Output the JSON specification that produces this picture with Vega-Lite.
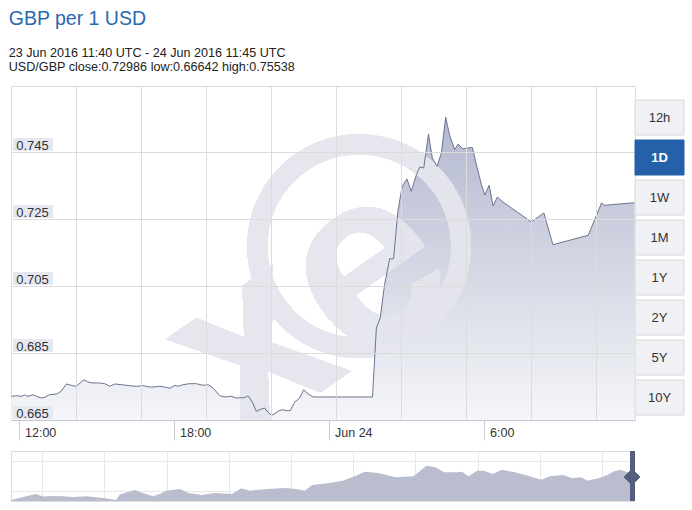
{
  "$schema": "https://vega.github.io/schema/vega-lite/v6.json",
  "padding": {"left": 8, "top": 9, "right": 0, "bottom": 0},
  "background": "white",
  "config": {"font": "Liberation Sans", "view": {"stroke": null}},
  "title": {
    "text": "GBP per 1 USD",
    "subtitle": ["23 Jun 2016 11:40 UTC - 24 Jun 2016 11:45 UTC", "USD/GBP close:0.72986 low:0.66642 high:0.75538"],
    "anchor": "start",
    "font": "Liberation Sans",
    "fontSize": 19.5,
    "fontWeight": "normal",
    "color": "#2a68ad",
    "subtitleFont": "Liberation Sans",
    "subtitleFontSize": 12.6,
    "subtitleColor": "#222222",
    "subtitlePadding": 17,
    "subtitleLineHeight": 14,
    "offset": 11
  },
  "spacing": 7,
  "vconcat": [
    {
      "bounds": "flush",
      "spacing": 0,
      "hconcat": [
        {
          "width": 624,
          "height": 334,
          "view": {"stroke": "#dcdcdc"},
          "data": {"values": [
            {"time": "2016-06-23T11:42:00Z", "rate": 0.67207},
            {"time": "2016-06-23T11:54:00Z", "rate": 0.67225},
            {"time": "2016-06-23T12:05:00Z", "rate": 0.67207},
            {"time": "2016-06-23T12:13:00Z", "rate": 0.67246},
            {"time": "2016-06-23T12:21:00Z", "rate": 0.67207},
            {"time": "2016-06-23T12:33:00Z", "rate": 0.67255},
            {"time": "2016-06-23T12:40:00Z", "rate": 0.67207},
            {"time": "2016-06-23T12:52:00Z", "rate": 0.67157},
            {"time": "2016-06-23T13:00:00Z", "rate": 0.67178},
            {"time": "2016-06-23T13:11:00Z", "rate": 0.67255},
            {"time": "2016-06-23T13:27:00Z", "rate": 0.67276},
            {"time": "2016-06-23T13:38:00Z", "rate": 0.67357},
            {"time": "2016-06-23T13:50:00Z", "rate": 0.67575},
            {"time": "2016-06-23T14:05:00Z", "rate": 0.67524},
            {"time": "2016-06-23T14:13:00Z", "rate": 0.67506},
            {"time": "2016-06-23T14:22:00Z", "rate": 0.67604},
            {"time": "2016-06-23T14:31:00Z", "rate": 0.67703},
            {"time": "2016-06-23T14:40:00Z", "rate": 0.67634},
            {"time": "2016-06-23T14:52:00Z", "rate": 0.67604},
            {"time": "2016-06-23T15:07:00Z", "rate": 0.67604},
            {"time": "2016-06-23T15:19:00Z", "rate": 0.67584},
            {"time": "2016-06-23T15:31:00Z", "rate": 0.67506},
            {"time": "2016-06-23T15:42:00Z", "rate": 0.67575},
            {"time": "2016-06-23T15:58:00Z", "rate": 0.67554},
            {"time": "2016-06-23T16:17:00Z", "rate": 0.67524},
            {"time": "2016-06-23T16:32:00Z", "rate": 0.67506},
            {"time": "2016-06-23T16:48:00Z", "rate": 0.67524},
            {"time": "2016-06-23T17:04:00Z", "rate": 0.67485},
            {"time": "2016-06-23T17:11:00Z", "rate": 0.67485},
            {"time": "2016-06-23T17:27:00Z", "rate": 0.67506},
            {"time": "2016-06-23T17:38:00Z", "rate": 0.67485},
            {"time": "2016-06-23T17:50:00Z", "rate": 0.67446},
            {"time": "2016-06-23T18:02:00Z", "rate": 0.67536},
            {"time": "2016-06-23T18:09:00Z", "rate": 0.67506},
            {"time": "2016-06-23T18:21:00Z", "rate": 0.67554},
            {"time": "2016-06-23T18:36:00Z", "rate": 0.67584},
            {"time": "2016-06-23T18:52:00Z", "rate": 0.67584},
            {"time": "2016-06-23T19:07:00Z", "rate": 0.67536},
            {"time": "2016-06-23T19:19:00Z", "rate": 0.67554},
            {"time": "2016-06-23T19:31:00Z", "rate": 0.67455},
            {"time": "2016-06-23T19:46:00Z", "rate": 0.67225},
            {"time": "2016-06-23T19:58:00Z", "rate": 0.67187},
            {"time": "2016-06-23T20:13:00Z", "rate": 0.67207},
            {"time": "2016-06-23T20:25:00Z", "rate": 0.67157},
            {"time": "2016-06-23T20:36:00Z", "rate": 0.67166},
            {"time": "2016-06-23T20:44:00Z", "rate": 0.67166},
            {"time": "2016-06-23T20:52:00Z", "rate": 0.67225},
            {"time": "2016-06-23T21:03:00Z", "rate": 0.67007},
            {"time": "2016-06-23T21:11:00Z", "rate": 0.66760},
            {"time": "2016-06-23T21:23:00Z", "rate": 0.66828},
            {"time": "2016-06-23T21:31:00Z", "rate": 0.66858},
            {"time": "2016-06-23T21:38:00Z", "rate": 0.66730},
            {"time": "2016-06-23T21:46:00Z", "rate": 0.66642},
            {"time": "2016-06-23T21:54:00Z", "rate": 0.66688},
            {"time": "2016-06-23T22:04:00Z", "rate": 0.66778},
            {"time": "2016-06-23T22:13:00Z", "rate": 0.66807},
            {"time": "2016-06-23T22:21:00Z", "rate": 0.66778},
            {"time": "2016-06-23T22:30:00Z", "rate": 0.66778},
            {"time": "2016-06-23T22:40:00Z", "rate": 0.67028},
            {"time": "2016-06-23T22:52:00Z", "rate": 0.67157},
            {"time": "2016-06-23T23:01:00Z", "rate": 0.67404},
            {"time": "2016-06-23T23:11:00Z", "rate": 0.67285},
            {"time": "2016-06-23T23:23:00Z", "rate": 0.67187},
            {"time": "2016-06-24T01:41:00Z", "rate": 0.67187},
            {"time": "2016-06-24T01:50:00Z", "rate": 0.69246},
            {"time": "2016-06-24T01:59:00Z", "rate": 0.69545},
            {"time": "2016-06-24T02:09:00Z", "rate": 0.70539},
            {"time": "2016-06-24T02:21:00Z", "rate": 0.71315},
            {"time": "2016-06-24T02:30:00Z", "rate": 0.71315},
            {"time": "2016-06-24T02:40:00Z", "rate": 0.72730},
            {"time": "2016-06-24T02:50:00Z", "rate": 0.73476},
            {"time": "2016-06-24T03:01:00Z", "rate": 0.73694},
            {"time": "2016-06-24T03:11:00Z", "rate": 0.73327},
            {"time": "2016-06-24T03:23:00Z", "rate": 0.73822},
            {"time": "2016-06-24T03:31:00Z", "rate": 0.74052},
            {"time": "2016-06-24T03:40:00Z", "rate": 0.74022},
            {"time": "2016-06-24T03:51:00Z", "rate": 0.75037},
            {"time": "2016-06-24T04:00:00Z", "rate": 0.74321},
            {"time": "2016-06-24T04:11:00Z", "rate": 0.74073},
            {"time": "2016-06-24T04:21:00Z", "rate": 0.74470},
            {"time": "2016-06-24T04:31:00Z", "rate": 0.75538},
            {"time": "2016-06-24T04:40:00Z", "rate": 0.75007},
            {"time": "2016-06-24T04:52:00Z", "rate": 0.74569},
            {"time": "2016-06-24T05:00:00Z", "rate": 0.74739},
            {"time": "2016-06-24T05:10:00Z", "rate": 0.74599},
            {"time": "2016-06-24T05:21:00Z", "rate": 0.74619},
            {"time": "2016-06-24T05:33:00Z", "rate": 0.74634},
            {"time": "2016-06-24T05:42:00Z", "rate": 0.74142},
            {"time": "2016-06-24T05:54:00Z", "rate": 0.73524},
            {"time": "2016-06-24T06:02:00Z", "rate": 0.73216},
            {"time": "2016-06-24T06:12:00Z", "rate": 0.73506},
            {"time": "2016-06-24T06:21:00Z", "rate": 0.72888},
            {"time": "2016-06-24T06:31:00Z", "rate": 0.73157},
            {"time": "2016-06-24T06:44:00Z", "rate": 0.73007},
            {"time": "2016-06-24T07:50:00Z", "rate": 0.72410},
            {"time": "2016-06-24T08:19:00Z", "rate": 0.72679},
            {"time": "2016-06-24T08:40:00Z", "rate": 0.71733},
            {"time": "2016-06-24T10:02:00Z", "rate": 0.72013},
            {"time": "2016-06-24T10:33:00Z", "rate": 0.72978},
            {"time": "2016-06-24T10:40:00Z", "rate": 0.72909},
            {"time": "2016-06-24T11:50:00Z", "rate": 0.72986}
          ]},
          "layer": [
            {
              "mark": {"type": "area", "color": {"gradient": "linear", "x1": 0, "y1": 0, "x2": 0, "y2": 1, "stops": [{"offset": 0, "color": "#b3b8cf"}, {"offset": 1, "color": "#f5f6f9"}]}},
              "encoding": {
                "x": {"field": "time", "type": "temporal",
                  "scale": {"type": "utc", "domain": [
                    {"year": 2016, "month": 6, "date": 23, "hours": 11, "minutes": 41, "seconds": 25, "utc": true},
                    {"year": 2016, "month": 6, "date": 24, "hours": 11, "minutes": 50, "seconds": 42, "utc": true}]},
                  "axis": {"title": null, "orient": "bottom", "grid": false,
                    "values": [
                      {"year": 2016, "month": 6, "date": 23, "hours": 12, "utc": true},
                      {"year": 2016, "month": 6, "date": 23, "hours": 18, "utc": true},
                      {"year": 2016, "month": 6, "date": 24, "hours": 0, "utc": true},
                      {"year": 2016, "month": 6, "date": 24, "hours": 6, "utc": true}],
                    "labelExpr": "utcFormat(datum.value, utchours(datum.value) == 0 ? '%b %d' : '%-H:%M')",
                    "domainColor": "#c3c8d4", "tickColor": "#c8ccd6", "tickSize": 20,
                    "labelAlign": "left", "labelBaseline": "alphabetic", "labelPadding": -3.7, "labelOffset": 5.5,
                    "labelFontSize": 12.5, "labelColor": "#333333", "labelFont": "Liberation Sans",
                    "labelFlush": false, "labelOverlap": false, "zindex": 1}},
                "y": {"field": "rate", "type": "quantitative",
                  "scale": {"domain": [0.665, 0.7647], "zero": false, "nice": false},
                  "axis": {"title": null, "grid": true, "gridColor": "#dcdcdc",
                    "values": [0.665, 0.685, 0.705, 0.725, 0.745], "format": ".3f",
                    "domain": false, "ticks": false, "tickSize": 0,
                    "labelAlign": "left", "labelPadding": -4.7, "labelBaseline": "alphabetic", "labelOffset": -2.5,
                    "labelFontSize": 13, "labelColor": "#333333", "labelFont": "Liberation Sans",
                    "labelBound": false, "labelOverlap": false, "zindex": 1}},
                "y2": {"datum": 0.665}
              }
            },
            {
              "mark": {"type": "point", "shape": "circle", "filled": false, "size": 41548, "color": "#e6e6ee", "strokeWidth": 20, "opacity": 0.45, "clip": true},
              "encoding": {
                "x": {"datum": {"year": 2016, "month": 6, "date": 24, "hours": 1, "minutes": 10, "utc": true}, "type": "temporal", "axis": null},
                "y": {"datum": 0.7169, "type": "quantitative"}
              }
            },
            {
              "mark": {"type": "text", "text": "xe", "fontSize": 250, "fontWeight": "bold", "font": "Liberation Sans", "angle": 325, "color": "#e6e6ee", "opacity": 0.45, "align": "center", "baseline": "middle", "dy": 25, "clip": true},
              "encoding": {
                "x": {"datum": {"year": 2016, "month": 6, "date": 23, "hours": 22, "minutes": 41, "utc": true}, "type": "temporal", "axis": null},
                "y": {"datum": 0.7044, "type": "quantitative"}
              }
            },
            {
              "mark": {"type": "line", "color": "#6d7390", "strokeWidth": 1},
              "encoding": {
                "x": {"field": "time", "type": "temporal",
                  "axis": {"title": null, "orient": "top", "grid": true, "gridColor": "#dcdcdc",
                    "labels": false, "ticks": false, "domain": false, "zindex": 1,
                    "values": [
                      {"year": 2016, "month": 6, "date": 23, "hours": 14, "minutes": 13, "utc": true},
                      {"year": 2016, "month": 6, "date": 23, "hours": 16, "minutes": 44, "utc": true},
                      {"year": 2016, "month": 6, "date": 23, "hours": 19, "minutes": 15, "utc": true},
                      {"year": 2016, "month": 6, "date": 23, "hours": 21, "minutes": 46, "utc": true},
                      {"year": 2016, "month": 6, "date": 24, "hours": 0, "minutes": 17, "utc": true},
                      {"year": 2016, "month": 6, "date": 24, "hours": 2, "minutes": 48, "utc": true},
                      {"year": 2016, "month": 6, "date": 24, "hours": 5, "minutes": 19, "utc": true},
                      {"year": 2016, "month": 6, "date": 24, "hours": 7, "minutes": 50, "utc": true},
                      {"year": 2016, "month": 6, "date": 24, "hours": 10, "minutes": 21, "utc": true}]}},
                "y": {"field": "rate", "type": "quantitative"}
              }
            },
            {
              "data": {"values": [{"tick": 0.665}, {"tick": 0.685}, {"tick": 0.705}, {"tick": 0.725}, {"tick": 0.745}]},
              "mark": {"type": "point", "shape": "M2,-14H42V-1H2Z", "size": 4, "filled": true, "fill": "#e6e8f1", "opacity": 1, "strokeWidth": 0},
              "encoding": {
                "x": {"datum": {"year": 2016, "month": 6, "date": 23, "hours": 11, "minutes": 41, "seconds": 25, "utc": true}, "type": "temporal", "axis": null},
                "y": {"field": "tick", "type": "quantitative"}
              }
            }
          ],
          "resolve": {"axis": {"x": "independent"}}
        },
        {
          "width": 49,
          "height": 334,
          "view": {"stroke": null},
          "data": {"values": [
            {"label": "12h", "selected": false},
            {"label": "1D", "selected": true},
            {"label": "1W", "selected": false},
            {"label": "1M", "selected": false},
            {"label": "1Y", "selected": false},
            {"label": "2Y", "selected": false},
            {"label": "5Y", "selected": false},
            {"label": "10Y", "selected": false}
          ]},
          "encoding": {
            "y": {"field": "label", "type": "nominal", "sort": null, "axis": null,
              "scale": {"paddingInner": 0.125, "paddingOuter": 0.2375, "align": 0.737}}
          },
          "layer": [
            {
              "mark": {"type": "bar", "stroke": "#d9d9dc", "strokeWidth": 1},
              "encoding": {
                "x": {"datum": 1, "type": "quantitative", "scale": {"domain": [0, 1]}, "axis": null},
                "fill": {"condition": {"test": "datum.selected", "value": "#2461a8"}, "value": "#f0f1f4"},
                "stroke": {"condition": {"test": "datum.selected", "value": "#2461a8"}, "value": "#d9d9dc"}
              }
            },
            {
              "transform": [{"filter": "!datum.selected"}],
              "mark": {"type": "text", "fontSize": 13, "font": "Liberation Sans", "color": "#333333"},
              "encoding": {"x": {"datum": 0.5, "type": "quantitative"}, "text": {"field": "label"}}
            },
            {
              "transform": [{"filter": "datum.selected"}],
              "mark": {"type": "text", "fontSize": 13, "font": "Liberation Sans", "fontWeight": "bold", "color": "#ffffff"},
              "encoding": {"x": {"datum": 0.5, "type": "quantitative"}, "text": {"field": "label"}}
            }
          ]
        }
      ]
    },
    {
      "width": 622,
      "height": 50,
      "view": {"stroke": "#dcdcdc"},
      "data": {"values": [
        {"year": 1996.00, "rate": 0.505}, {"year": 1996.39, "rate": 0.520}, {"year": 1996.80, "rate": 0.535},
        {"year": 1997.03, "rate": 0.5225}, {"year": 1997.35, "rate": 0.525}, {"year": 1997.67, "rate": 0.5235},
        {"year": 1997.99, "rate": 0.520}, {"year": 1998.44, "rate": 0.5235}, {"year": 1998.96, "rate": 0.515},
        {"year": 1999.28, "rate": 0.5075}, {"year": 1999.38, "rate": 0.505}, {"year": 1999.50, "rate": 0.5325},
        {"year": 1999.76, "rate": 0.545}, {"year": 1999.97, "rate": 0.555}, {"year": 2000.24, "rate": 0.540},
        {"year": 2000.57, "rate": 0.5235}, {"year": 2000.79, "rate": 0.535}, {"year": 2000.98, "rate": 0.5515},
        {"year": 2001.42, "rate": 0.560}, {"year": 2001.72, "rate": 0.540}, {"year": 2002.13, "rate": 0.530},
        {"year": 2002.56, "rate": 0.540}, {"year": 2003.11, "rate": 0.535}, {"year": 2003.40, "rate": 0.5635},
        {"year": 2003.68, "rate": 0.5515}, {"year": 2004.26, "rate": 0.560}, {"year": 2004.81, "rate": 0.565},
        {"year": 2005.16, "rate": 0.560}, {"year": 2005.45, "rate": 0.5515}, {"year": 2005.68, "rate": 0.580},
        {"year": 2006.24, "rate": 0.590}, {"year": 2006.67, "rate": 0.6015}, {"year": 2007.09, "rate": 0.6265},
        {"year": 2007.38, "rate": 0.6465}, {"year": 2007.80, "rate": 0.640}, {"year": 2008.08, "rate": 0.630},
        {"year": 2008.37, "rate": 0.6185}, {"year": 2008.94, "rate": 0.6235}, {"year": 2009.36, "rate": 0.6765},
        {"year": 2009.65, "rate": 0.6685}, {"year": 2009.93, "rate": 0.6435}, {"year": 2010.35, "rate": 0.6435},
        {"year": 2010.50, "rate": 0.6465}, {"year": 2010.71, "rate": 0.6235}, {"year": 2010.99, "rate": 0.6515},
        {"year": 2011.21, "rate": 0.6515}, {"year": 2011.49, "rate": 0.635}, {"year": 2011.78, "rate": 0.6565},
        {"year": 2012.20, "rate": 0.6435}, {"year": 2012.62, "rate": 0.6265}, {"year": 2013.05, "rate": 0.6065},
        {"year": 2013.33, "rate": 0.6235}, {"year": 2013.76, "rate": 0.630}, {"year": 2014.04, "rate": 0.6135},
        {"year": 2014.33, "rate": 0.6185}, {"year": 2014.54, "rate": 0.6015}, {"year": 2014.89, "rate": 0.6135},
        {"year": 2015.18, "rate": 0.630}, {"year": 2015.39, "rate": 0.6485}, {"year": 2015.60, "rate": 0.6565},
        {"year": 2015.81, "rate": 0.6435}, {"year": 2015.95, "rate": 0.635}, {"year": 2016.00, "rate": 0.635}
      ]},
      "layer": [
        {
          "mark": {"type": "area", "color": "#b9bdcd"},
          "encoding": {
            "x": {"field": "year", "type": "quantitative",
              "scale": {"domain": [1996, 2016], "nice": false, "zero": false},
              "axis": {"title": null, "grid": true, "gridColor": "#e8e8e8", "labels": false, "ticks": false, "domain": false,
                "values": [1997, 1998, 1999, 2000, 2001, 2002, 2003, 2004, 2005, 2006, 2007, 2008, 2009, 2010, 2011, 2012, 2013, 2014, 2015]}},
            "y": {"field": "rate", "type": "quantitative",
              "scale": {"domain": [0.5, 0.75], "nice": false, "zero": false},
              "axis": {"title": null, "grid": true, "gridColor": "#e8e8e8", "labels": false, "ticks": false, "domain": false,
                "values": [0.55, 0.6, 0.65, 0.7]}},
            "y2": {"datum": 0.5}
          }
        },
        {
          "mark": {"type": "rule", "color": "#56607e", "strokeWidth": 4},
          "encoding": {"x": {"datum": 2015.97, "type": "quantitative"}}
        },
        {
          "mark": {"type": "point", "shape": "diamond", "filled": true, "color": "#56607e", "size": 250, "opacity": 1},
          "encoding": {"x": {"datum": 2015.97, "type": "quantitative"}, "y": {"datum": 0.62, "type": "quantitative"}}
        }
      ]
    }
  ]
}
